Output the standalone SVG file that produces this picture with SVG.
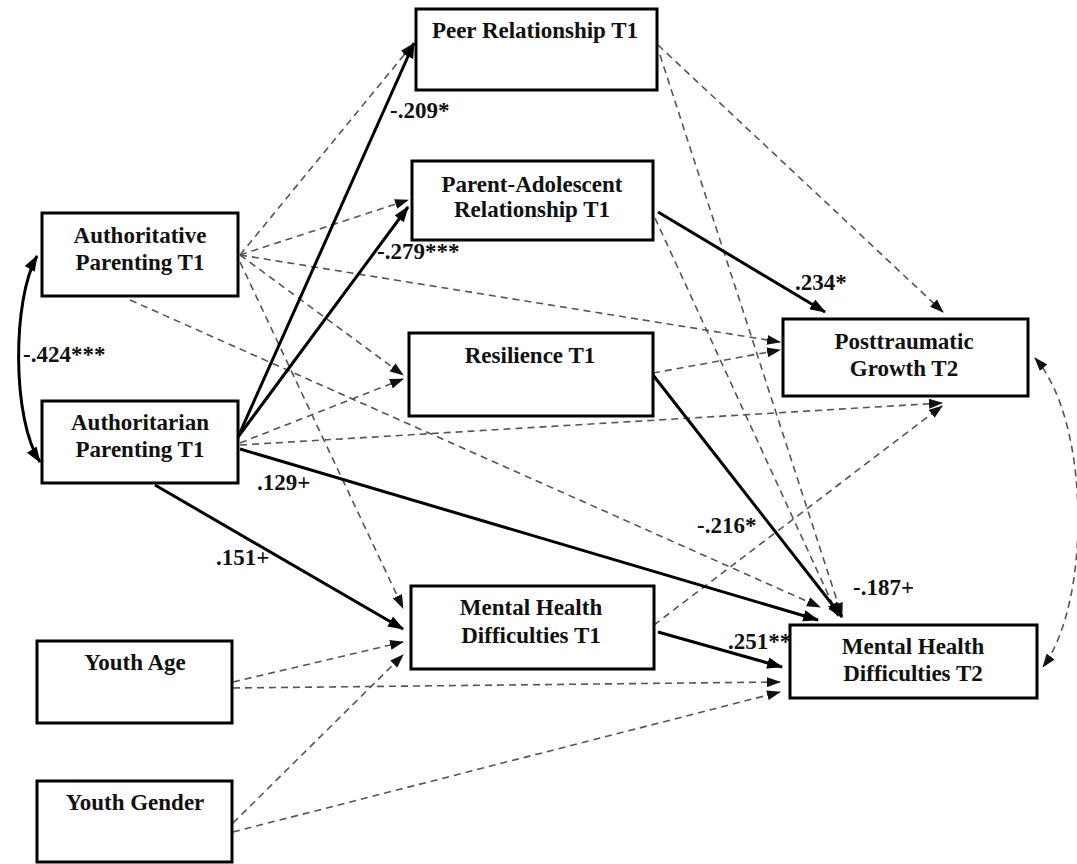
<svg xmlns="http://www.w3.org/2000/svg" width="1077" height="864" viewBox="0 0 1077 864">
<defs>
<style>
.box{fill:#fff;stroke:#000;stroke-width:3}
.t{font-family:"Liberation Serif","Times New Roman",serif;font-weight:bold;font-size:23px;fill:#111;text-anchor:middle}
.lab{font-family:"Liberation Serif","Times New Roman",serif;font-weight:bold;font-size:23px;fill:#111}
.s{fill:none;stroke:#000;stroke-width:3;marker-end:url(#ah)}
.d{fill:none;stroke:#555;stroke-width:1.6;stroke-dasharray:7 5;marker-end:url(#ahd)}
</style>
<marker id="ah" viewBox="0 0 14 10" refX="13" refY="5" markerWidth="16" markerHeight="12" markerUnits="userSpaceOnUse" orient="auto-start-reverse">
<path d="M0,0 L14,5 L0,10 z" fill="#000"/>
</marker>
<marker id="ahd" viewBox="0 0 14 10" refX="13" refY="5" markerWidth="14" markerHeight="10" markerUnits="userSpaceOnUse" orient="auto-start-reverse">
<path d="M0,0 L14,5 L0,10 z" fill="#111"/>
</marker>
</defs>
<rect width="1077" height="864" fill="#fff"/>

<g id="connectors">
<line class="d" x1="240" y1="255" x2="413" y2="44"/>
<line class="d" x1="240" y1="255" x2="408" y2="200"/>
<line class="d" x1="240" y1="255" x2="403" y2="375"/>
<line class="d" x1="240" y1="255" x2="780" y2="342"/>
<line class="d" x1="240" y1="262" x2="403" y2="608"/>
<line class="d" x1="130" y1="300" x2="820" y2="607"/>
<line class="d" x1="240" y1="443" x2="403" y2="379"/>
<line class="d" x1="240" y1="445" x2="942" y2="403"/>
<line class="d" x1="658" y1="45" x2="943" y2="312"/>
<line class="d" x1="660" y1="55" x2="842" y2="616"/>
<line class="d" x1="655" y1="218" x2="838" y2="616"/>
<line class="d" x1="653" y1="373" x2="780" y2="350"/>
<line class="d" x1="654" y1="625" x2="942" y2="406"/>
<line class="d" x1="233" y1="682" x2="403" y2="642"/>
<line class="d" x1="233" y1="688" x2="780" y2="682"/>
<line class="d" x1="233" y1="823" x2="403" y2="655"/>
<line class="d" x1="233" y1="832" x2="780" y2="692"/>
<path class="d" d="M1035,358 C1090,420 1092,600 1043,667" style="marker-start:url(#ahd)"/>
<line class="s" x1="238" y1="437" x2="414" y2="43"/>
<line class="s" x1="238" y1="437" x2="408" y2="207"/>
<path class="s" d="M240,449 Q520,532 818,620"/>
<line class="s" x1="155" y1="485" x2="403" y2="629"/>
<line class="s" x1="658" y1="212" x2="825" y2="312"/>
<line class="s" x1="653" y1="375" x2="842" y2="617"/>
<line class="s" x1="658" y1="632" x2="782" y2="667"/>
<path class="s" d="M37,256 C12,300 12,420 40,462" style="marker-start:url(#ah)"/>
</g>

<g id="authoritative"><rect class="box" x="42" y="213" width="196" height="83"/><text class="t" x="140" y="243">Authoritative</text><text class="t" x="140" y="270">Parenting T1</text></g>
<g id="authoritarian"><rect class="box" x="42" y="401" width="196" height="82"/><text class="t" x="140" y="430">Authoritarian</text><text class="t" x="140" y="457">Parenting T1</text></g>
<g id="peer"><rect class="box" x="416" y="9" width="241" height="81"/><text class="t" x="535" y="38">Peer Relationship T1</text></g>
<g id="parent"><rect class="box" x="412" y="161" width="241" height="79"/><text class="t" x="532" y="192">Parent-Adolescent</text><text class="t" x="532" y="217">Relationship T1</text></g>
<g id="resilience"><rect class="box" x="409" y="333" width="244" height="83"/><text class="t" x="530" y="363">Resilience T1</text></g>
<g id="mht1"><rect class="box" x="411" y="586" width="243" height="83"/><text class="t" x="531" y="615">Mental Health</text><text class="t" x="531" y="643">Difficulties T1</text></g>
<g id="ptg"><rect class="box" x="783" y="319" width="245" height="77"/><text class="t" x="904" y="349">Posttraumatic</text><text class="t" x="904" y="376">Growth T2</text></g>
<g id="mht2"><rect class="box" x="790" y="625" width="247" height="73"/><text class="t" x="913" y="654">Mental Health</text><text class="t" x="913" y="681">Difficulties T2</text></g>
<g id="age"><rect class="box" x="37" y="641" width="195" height="82"/><text class="t" x="135" y="670">Youth Age</text></g>
<g id="gender"><rect class="box" x="37" y="781" width="195" height="81"/><text class="t" x="135" y="810">Youth Gender</text></g>

<g id="labels">
<text class="lab" x="23" y="362">-.424***</text>
<text class="lab" x="390" y="118">-.209*</text>
<text class="lab" x="377" y="259">-.279***</text>
<text class="lab" x="795" y="290">.234*</text>
<text class="lab" x="697" y="533">-.216*</text>
<text class="lab" x="853" y="595">-.187+</text>
<text class="lab" x="728" y="649">.251**</text>
<text class="lab" x="257" y="490">.129+</text>
<text class="lab" x="216" y="565">.151+</text>
</g>
</svg>
